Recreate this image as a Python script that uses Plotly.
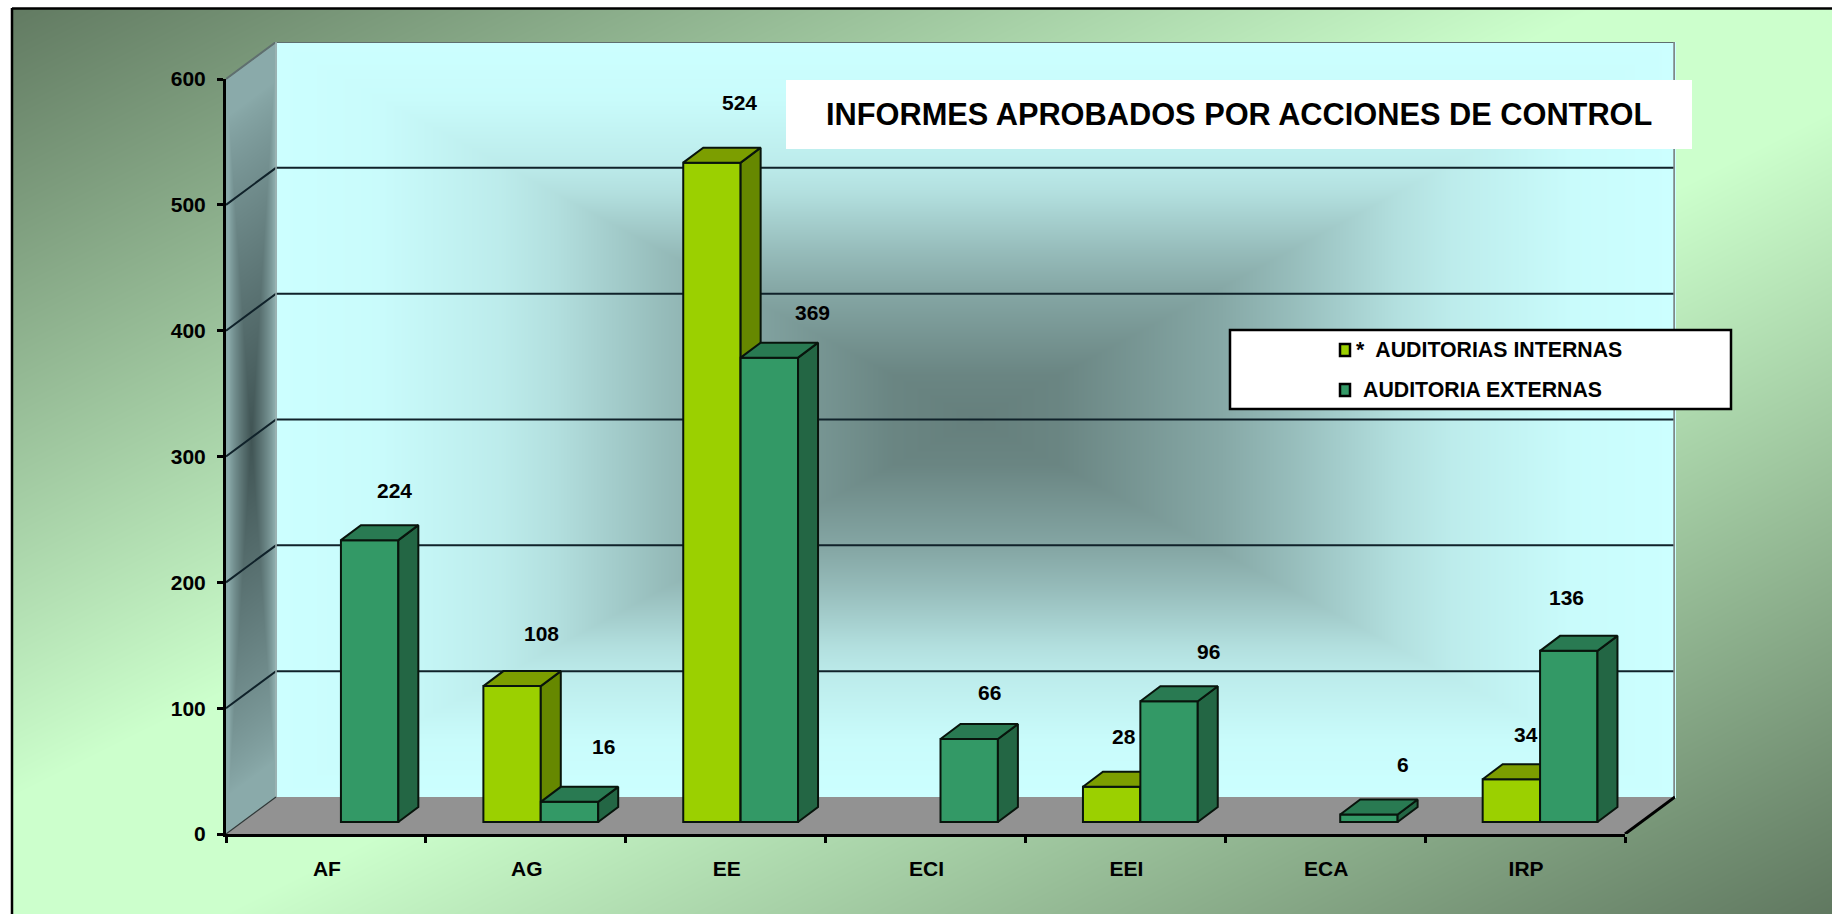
import base64, struct, zlib
import numpy as np
import plotly.graph_objects as go

# ---- data -------------------------------------------------------------
categories = ["AF", "AG", "EE", "ECI", "EEI", "ECA", "IRP"]
internas = [None, 108, 524, None, 28, None, 34]
externas = [224, 16, 369, 66, 96, 6, 136]
y_ticks = [0, 100, 200, 300, 400, 500, 600]
name_int = "*  AUDITORIAS INTERNAS"
name_ext = "AUDITORIA EXTERNAS"
title_text = "INFORMES APROBADOS POR ACCIONES DE CONTROL"

# label nudges in screen pixels (dx, up)
int_label_shift = [None, (29, 53), (28, 60), None, (12, 50), None, (15, 45)]
ext_label_shift = [(25, 50), (34, 55), (43, 45), (20, 46), (39, 50), (34, 50), (-2, 53)]

# ---- geometry ---------------------------------------------------------
W, H = 1832, 914
X0, X1, Y0, Y600 = 226, 1625, 834, 79
WALL_DX, WALL_DY = 50, 37
ux = len(categories) / (X1 - X0)
uy = 600 / (Y0 - Y600)
BAR_W = 57.4 * ux
BAR_SHIFT = 15 * ux
BAR_BASE = 12 * uy
DEPTH_X, DEPTH_Y = 20 * ux, 15 * uy
wx, wy = WALL_DX * ux, WALL_DY * uy
FONT = "Liberation Sans, Arial, sans-serif"


def px(x):
    return x / W


def py(y):
    return 1 - y / H


# ---- gradient backdrop -------------------------------------------------
def mix(c0, c1, t):
    t = t[..., None]
    return np.array(c0, float) * (1 - t) + np.array(c1, float) * t


yy, xx = np.mgrid[0:H, 0:W].astype(float)
s = xx / W + yy / H
t_out = np.where(s < 1, np.clip(1 - s / 0.88, 0, 1), np.clip((s - 1.12) / 0.88, 0, 1))
img = mix((0xCC, 0xFF, 0xCC), (0x60, 0x78, 0x60), t_out)

wx0, wx1, wy0, wy1 = X0 + WALL_DX, X1 + WALL_DX, Y600 - WALL_DY, Y0 - WALL_DY
u = (xx - wx0) / (wx1 - wx0)
v = (yy - wy0) / (wy1 - wy0)
r_wall = np.maximum(np.abs(2 * u - 1), np.abs(2 * v - 1))
f_wall = np.interp(r_wall, [0, .12, .35, .45, .6, .68, .85, 1], [0, .05, .32, .48, .75, .85, .97, 1])
wall_rgb = mix((0x65, 0x7F, 0x7C), (0xCC, 0xFF, 0xFF), f_wall)
mask = (u >= 0) & (u <= 1) & (v >= 0) & (v <= 1)
img[mask] = wall_rgb[mask]

su = (xx - X0) / WALL_DX
top = Y600 - su * WALL_DY
bot = Y0 - su * WALL_DY
sv = (yy - top) / (bot - top)
t_side = np.clip(1 - np.maximum(np.abs(2 * su - 1), np.abs(2 * sv - 1)) / 0.9, 0, 1) ** 0.8
side_rgb = mix((0x8A, 0xAA, 0xAA), (0x40, 0x54, 0x54), t_side)
smask = (su >= 0) & (su <= 1) & (sv >= 0) & (sv <= 1)
img[smask] = side_rgb[smask]

# white page strip outside the left and top frame lines
img[:, :12] = 255
img[:8, :] = 255


def png_uri(arr):
    a = np.clip(arr + 0.5, 0, 255).astype(np.uint8)
    raw = b"".join(b"\x00" + row.tobytes() for row in a)

    def chunk(tag, data):
        return struct.pack(">I", len(data)) + tag + data + struct.pack(">I", zlib.crc32(tag + data))

    h, w = a.shape[:2]
    data = (b"\x89PNG\r\n\x1a\n" + chunk(b"IHDR", struct.pack(">IIBBBBB", w, h, 8, 2, 0, 0, 0))
            + chunk(b"IDAT", zlib.compress(raw, 9)) + chunk(b"IEND", b""))
    return "data:image/png;base64," + base64.b64encode(data).decode()


# ---- traces -------------------------------------------------------------
fig = go.Figure()
EDGE = "#08140c"


def line_trace(xs, ys, color, width):
    return go.Scatter(x=xs, y=ys, mode="lines", line=dict(color=color, width=width),
                      hoverinfo="skip", showlegend=False, cliponaxis=False)


n = len(categories)
# floor
fig.add_trace(go.Scatter(x=[0, n, n + wx, wx, 0], y=[0, 0, wy, wy, 0], mode="lines", fill="toself",
                         fillcolor="#929292", line=dict(width=0), hoverinfo="skip", showlegend=False,
                         cliponaxis=False))
# gridlines on back wall and side wall
gx, gy = [], []
for t in y_ticks[1:-1]:
    gx += [0, wx, n + wx, None]
    gy += [t, t + wy, t + wy, None]
fig.add_trace(line_trace(gx, gy, "#10222a", 2))
# wall edges
fig.add_trace(line_trace([0, wx, n + wx], [600, 600 + wy, 600 + wy], "#5f6f6f", 2))
fig.add_trace(line_trace([n + wx - 0.5 * ux, n + wx - 0.5 * ux], [wy, 600 + wy], "#808888", 2.5))
fig.add_trace(line_trace([wx, wx], [wy, 600 + wy], "#9fb5b5", 1.5))
fig.add_trace(line_trace([0, wx], [0, wy], "#303838", 1.2))
fig.add_trace(line_trace([n, n + wx], [0, wy], "#000000", 3))


def add_series(values, name, side_offset, front, top_c, side_c, axes):
    xc = [i + 0.5 + BAR_SHIFT + side_offset * BAR_W for i in range(n)]
    fig.add_trace(go.Bar(x=xc, y=values, base=BAR_BASE, width=BAR_W, name=name, xaxis=axes[0], yaxis=axes[1],
                         marker=dict(color=front, line=dict(color=EDGE, width=2)), cliponaxis=False,
                         showlegend=False, hoverinfo="name+y"))
    sx, sy, tx, ty = [], [], [], []
    for x, val in zip(xc, values):
        if val is None:
            continue
        l, r = x - BAR_W / 2, x + BAR_W / 2
        b, h = BAR_BASE, BAR_BASE + val
        sx += [r, r + DEPTH_X, r + DEPTH_X, r, r, None]
        sy += [b, b + DEPTH_Y, h + DEPTH_Y, h, b, None]
        tx += [l, l + DEPTH_X, r + DEPTH_X, r, l, None]
        ty += [h, h + DEPTH_Y, h + DEPTH_Y, h, h, None]
    for xs, ys, c in ((sx, sy, side_c), (tx, ty, top_c)):
        fig.add_trace(go.Scatter(x=xs, y=ys, mode="lines", fill="toself", fillcolor=c,
                                 line=dict(color=EDGE, width=2), xaxis=axes[0], yaxis=axes[1],
                                 hoverinfo="skip", showlegend=False, cliponaxis=False))
    return xc


xc_int = add_series(internas, name_int, -0.5, "#9BD000", "#7C9E00", "#668800", ("x2", "y2"))
xc_ext = add_series(externas, name_ext, 0.5, "#339966", "#297A52", "#236644", ("x3", "y3"))
# carrier for the visible category / value axes (drawn last, on top)
fig.add_trace(go.Scatter(x=[0, n], y=[0, 600], mode="markers", marker=dict(opacity=0), xaxis="x4", yaxis="y4",
                         hoverinfo="skip", showlegend=False, cliponaxis=False))

# ---- annotations -------------------------------------------------------
annos = []
for xc, vals, shifts in ((xc_int, internas, int_label_shift), (xc_ext, externas, ext_label_shift)):
    for x, val, sh in zip(xc, vals, shifts):
        if val is None:
            continue
        annos.append(dict(x=x, y=BAR_BASE + val, xref="x", yref="y", text=str(val), showarrow=False,
                          xshift=sh[0], yshift=sh[1], xanchor="center", yanchor="middle",
                          font=dict(family=FONT, size=21, color="black", weight=700)))

annos.append(dict(x=px(1239), y=py(115), xref="paper", yref="paper", text=title_text, showarrow=False,
                  xanchor="center", yanchor="middle",
                  font=dict(family=FONT, size=30.75, color="black", weight=700)))
annos.append(dict(x=px(1354), y=py(350), xref="paper", yref="paper", text=name_int, showarrow=False,
                  xanchor="left", yanchor="middle",
                  font=dict(family=FONT, size=21.3, color="black", weight=700)))
annos.append(dict(x=px(1361), y=py(390), xref="paper", yref="paper", text=name_ext, showarrow=False,
                  xanchor="left", yanchor="middle",
                  font=dict(family=FONT, size=21.3, color="black", weight=700)))


def rect(x0, y0, x1, y1, fill, line=None, lw=0):
    return dict(type="rect", xref="paper", yref="paper", x0=px(x0), x1=px(x1), y0=py(y0), y1=py(y1),
                fillcolor=fill, line=dict(color=line or fill, width=lw), layer="above")


shapes = [
    rect(786, 80, 1692, 149, "white"),
    rect(1230, 330, 1731, 409, "white", "black", 2.5),
    rect(1340, 344, 1350, 356, "#9BD000", "black", 2.5),
    rect(1340, 384, 1350, 396, "#339966", "black", 2.5),
    # frame lines
    dict(type="line", xref="paper", yref="paper", x0=px(12), x1=px(12), y0=py(8), y1=py(914),
         line=dict(color="black", width=2.5), layer="above"),
    dict(type="line", xref="paper", yref="paper", x0=px(12), x1=px(1832), y0=py(8.5), y1=py(8.5),
         line=dict(color="black", width=2.5), layer="above"),
]

# trace axes span the walls too, so the 3-D parts are not clipped
dom_x = [px(X0), px(X1 + WALL_DX)]
dom_y = [py(Y0), py(Y600 - WALL_DY)]
full_x = [0, n + wx]
full_y = [0, 600 + wy]


def hx(**kw):
    return dict(domain=dom_x, range=full_x, visible=False, fixedrange=True, automargin=False, **kw)


def hy(**kw):
    return dict(domain=dom_y, range=full_y, visible=False, fixedrange=True, automargin=False, **kw)


fig.update_layout(
    width=W, height=H, autosize=False, margin=dict(l=0, r=0, t=0, b=0, pad=0),
    paper_bgcolor="white", plot_bgcolor="rgba(0,0,0,0)", barmode="overlay", showlegend=False,
    images=[dict(source=png_uri(img), xref="paper", yref="paper", x=0, y=1, sizex=1, sizey=1,
                 sizing="stretch", xanchor="left", yanchor="top", layer="below")],
    xaxis=hx(), yaxis=hy(),
    xaxis2=hx(overlaying="x", anchor="y2"), yaxis2=hy(overlaying="y", anchor="x2"),
    xaxis3=hx(overlaying="x", anchor="y3"), yaxis3=hy(overlaying="y", anchor="x3"),
    xaxis4=dict(domain=[px(X0), px(X1)], range=[0, n], anchor="y4", tickmode="array",
                tickvals=[i + 0.5 for i in range(n)], ticktext=categories, ticks="", ticklabelstandoff=14,
                ticklabelshift=1,
                minor=dict(tickmode="array", tickvals=list(range(n + 1)), ticks="outside", ticklen=6,
                           tickwidth=3, tickcolor="black", showgrid=False),
                showgrid=False, zeroline=False, showline=True, linecolor="black", linewidth=3,
                fixedrange=True, automargin=False,
                tickfont=dict(family=FONT, size=21, color="black", weight=700)),
    yaxis4=dict(domain=[py(Y0), py(Y600)], range=[0, 600], anchor="x4", tickmode="array", tickvals=y_ticks,
                ticks="outside", ticklen=6, tickwidth=3, tickcolor="black", ticklabelstandoff=7,
                showgrid=False, zeroline=False, showline=True, linecolor="black", linewidth=3,
                fixedrange=True, automargin=False,
                tickfont=dict(family=FONT, size=21, color="black", weight=700)),
    annotations=annos, shapes=shapes,
)

fig.write_html("out.html", config=dict(displayModeBar=False),
               post_script="document.body.style.margin='0';document.documentElement.style.overflow='hidden';")
